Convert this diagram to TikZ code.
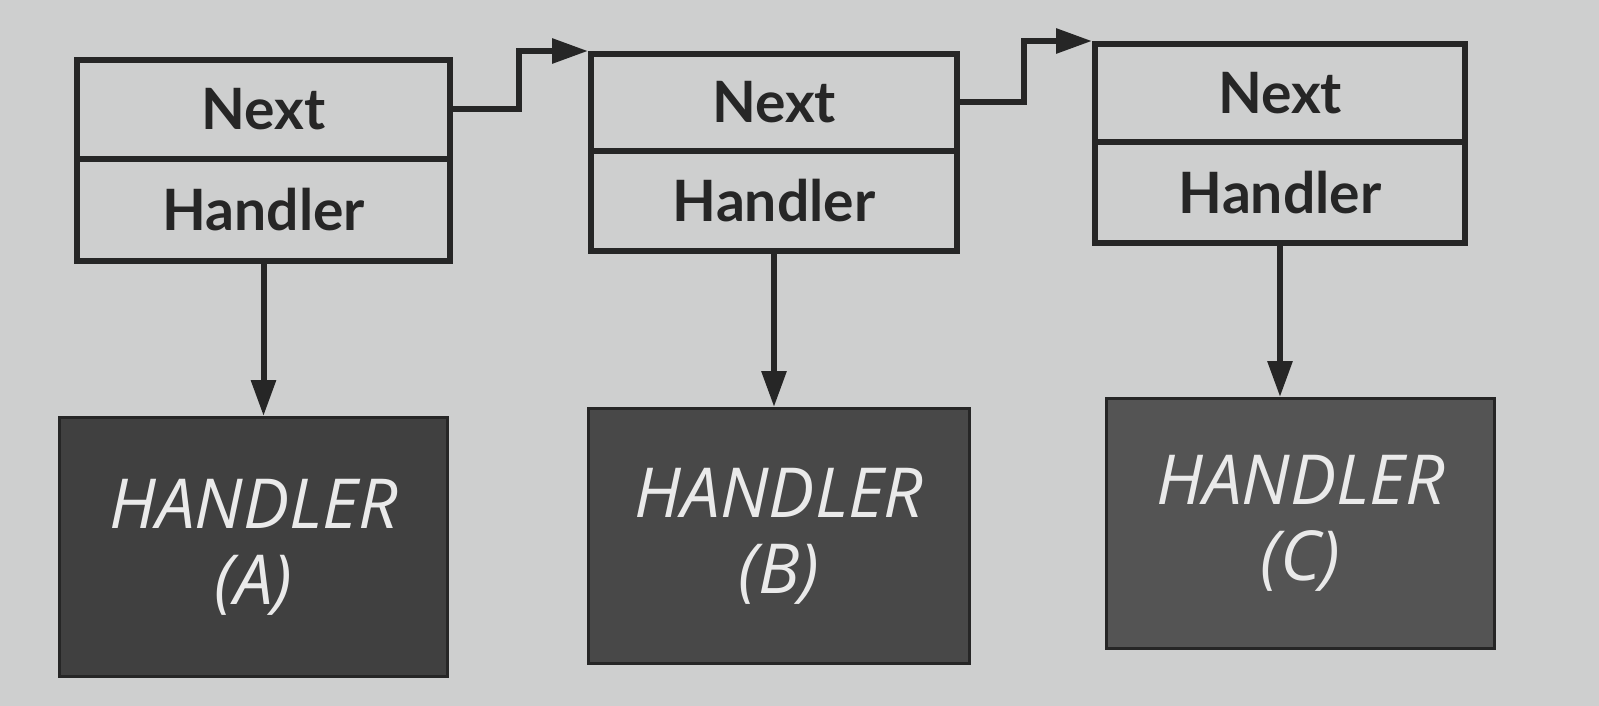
\documentclass[tikz,border=0pt]{standalone}
\usepackage{fontspec}
\setmainfont{Open Sans}
\newfontfamily\labelfont{Lato}
\usetikzlibrary{arrows.meta}
\definecolor{bgc}{RGB}{206,207,207}
\definecolor{linec}{RGB}{38,38,38}
\definecolor{darkA}{RGB}{64,64,64}
\definecolor{darkB}{RGB}{72,72,72}
\definecolor{darkC}{RGB}{84,84,84}
\definecolor{txtw}{RGB}{234,234,234}
\tikzset{
  cell/.style={draw=linec, line width=6pt, fill=bgc, inner sep=0pt, anchor=north west,
    text=linec, font=\labelfont\fontsize{57}{60}\selectfont\bfseries},
  hbox/.style={draw=linec, line width=3pt, inner sep=0pt, anchor=north west,
    text=txtw, align=center, font=\fontsize{69}{76}\selectfont\itshape},
  arr/.style={draw=linec, line width=6pt, -{Triangle[length=36pt,width=24pt]}},
}
\begin{document}
\begin{tikzpicture}[x=1pt,y=-1pt]
\fill[bgc] (0,0) rectangle (1599,706);
\useasboundingbox (0,0) rectangle (1599,706);
% box A
\node[cell, minimum width=373pt, minimum height=99pt] (nextA) at (74,57) {Next};
\node[cell, minimum width=373pt, minimum height=102pt] (handA) at (74,156) {Handler};
% box B
\node[cell, minimum width=366pt, minimum height=97pt] (nextB) at (588,51) {Next};
\node[cell, minimum width=366pt, minimum height=100pt] (handB) at (588,148) {Handler};
% box C
\node[cell, minimum width=370pt, minimum height=98pt] (nextC) at (1092,41) {Next};
\node[cell, minimum width=370pt, minimum height=101pt] (handC) at (1092,139) {Handler};
% dark handler boxes
\node[hbox, fill=darkA, minimum width=388pt, minimum height=259pt] (hA) at (58,416) {HANDLER\\(A)};
\node[hbox, fill=darkB, minimum width=381pt, minimum height=255pt] (hB) at (587,407) {HANDLER\\(B)};
\node[hbox, fill=darkC, minimum width=388pt, minimum height=250pt] (hC) at (1105,397) {HANDLER\\(C)};
% connectors
\draw[arr] (handA) -- (handA |- hA.north);
\draw[arr] (handB) -- (handB |- hB.north);
\draw[arr] (handC) -- (handC |- hC.north);
\draw[arr] (nextA.east) -- ++(66,0) |- (nextB.north west);
\draw[arr] (nextB.east) -- ++(64,0) |- (nextC.north west);
\end{tikzpicture}
\end{document}
